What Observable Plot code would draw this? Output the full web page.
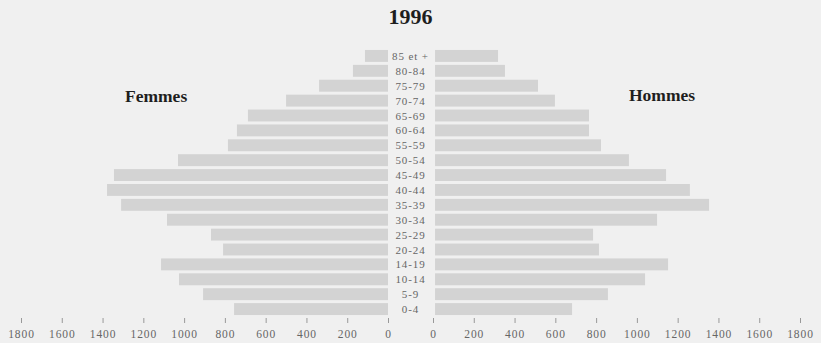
<!DOCTYPE html>
<html>
<head>
<meta charset="utf-8">
<script src="https://cdn.jsdelivr.net/npm/d3@7"></script>
<script src="https://cdn.jsdelivr.net/npm/@observablehq/plot@0.6"></script>
<style>
  html, body { margin: 0; padding: 0; background: #f0f0f0; }
  #wrap { position: relative; width: 821px; height: 343px; background: #f0f0f0; overflow: hidden; }
  #wrap svg { position: absolute; top: 0; }
  #wrap svg, #wrap svg text { font-family: "Liberation Serif", "DejaVu Serif", serif !important; letter-spacing: 0.9px; }
  .lbl { position: absolute; font-family: "Liberation Serif", "DejaVu Serif", serif; font-weight: bold; color: #1e1e1e; white-space: nowrap; line-height: 1; }
</style>
</head>
<body>
<div id="wrap">
  <div class="lbl" style="left:0;width:821px;text-align:center;top:6px;font-size:22px;">1996</div>
  <div class="lbl" style="left:125px;top:88px;font-size:17.5px;">Femmes</div>
  <div class="lbl" style="left:629px;top:87px;font-size:17.5px;">Hommes</div>
</div>
<script>
const ages = ["85 et +","80-84","75-79","70-74","65-69","60-64","55-59","50-54","45-49","40-44","35-39","30-34","25-29","20-24","14-19","10-14","5-9","0-4"];
const femmes = [113,172,338,500,687,741,785,1030,1344,1378,1309,1084,868,809,1113,1025,907,755];
const hommes = [319,353,515,598,765,765,824,961,1143,1260,1354,1099,785,814,1153,1040,858,682];
const xTicks = [0,200,400,600,800,1000,1200,1400,1600,1800];

const femData = ages.map((a, i) => ({age: a, value: femmes[i]}));
const homData = ages.map((a, i) => ({age: a, value: hommes[i]}));

const barFill = "#d3d3d3";
const textColor = "#666666";

const common = {
  height: 343,
  marginTop: 47,
  marginBottom: 25,
  style: {background: "transparent", fontSize: "11px", color: textColor, overflow: "visible"},
  y: {domain: ages, padding: 0.2, round: false, axis: null}
};

const axisOpts = {
  ticks: xTicks,
  tickSize: 5,
  tickPadding: 6,
  tickFormat: d => String(d),
  label: null,
  stroke: "#999",
  fill: textColor,
  fontSize: 11.5
};

const left = Plot.plot({
  ...common,
  width: 410,
  marginLeft: 21,
  marginRight: 22,
  x: {domain: [0, 1800], reverse: true, label: null},
  marks: [
    Plot.barX(femData, {y: "age", x: "value", fill: barFill}),
    Plot.axisX(axisOpts)
  ]
});

const right = Plot.plot({
  ...common,
  width: 411,
  marginLeft: 23,
  marginRight: 21,
  x: {domain: [0, 1800], label: null},
  marks: [
    Plot.barX(homData, {y: "age", x1: 10, x2: "value", fill: barFill}),
    Plot.text(ages, {y: d => d, x: 0, text: d => d, dx: -23, textAnchor: "middle", fill: textColor, fontSize: 11}),
    Plot.axisX(axisOpts)
  ]
});

left.style.left = "0px";
right.style.left = "410px";
const wrap = document.getElementById("wrap");
wrap.appendChild(left);
wrap.appendChild(right);
</script>
</body>
</html>
